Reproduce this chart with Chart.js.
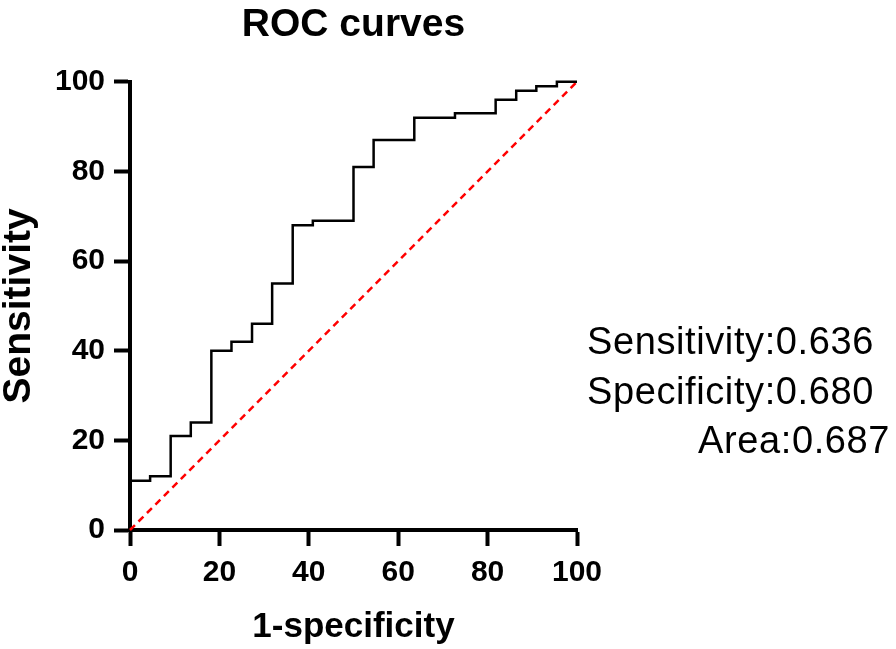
<!DOCTYPE html>
<html>
<head>
<meta charset="utf-8">
<script src="https://cdn.jsdelivr.net/npm/chart.js@4"></script>
<style>
  html, body { margin: 0; padding: 0; background: #fff; }
  #wrap { width: 896px; height: 649px; }
</style>
</head>
<body>
<div id="wrap"><canvas id="rocChart"></canvas></div>
<script>
// ROC step curve (1-specificity %, sensitivity %)
const fprValues = [0, 4.5, 9.1, 13.6, 18.2, 22.7, 27.3, 31.8, 36.4, 40.9, 50, 54.5, 63.6, 72.7, 81.8, 86.4, 90.9, 95.5, 100];
const tprValues = [11, 12, 21, 24, 40, 42, 46, 55, 68, 69, 81, 87, 92, 93, 96, 98, 99, 100, 100];
// reference diagonal
const diagX = [0, 100];
const diagY = [0, 100];
const tickValues = [0, 20, 40, 60, 80, 100];
const statLines = ['Sensitivity:0.636', 'Specificity:0.680', 'Area:0.687'];

const FONT = '"Liberation Sans", Arial, sans-serif';

const rocPoints = fprValues.map((x, i) => ({ x: x, y: tprValues[i] }));
const diagPoints = diagX.map((x, i) => ({ x: x, y: diagY[i] }));

// stats text to the right of the plot
const statsText = {
    id: 'statsText',
    afterDraw(chart) {
        const { ctx, chartArea } = chart;
        ctx.save();
        ctx.fillStyle = '#000';
        ctx.font = '38px ' + FONT;
        ctx.letterSpacing = '0.6px';
        ctx.textBaseline = 'alphabetic';
        ctx.textAlign = 'left';
        ctx.fillText(statLines[0], chartArea.right + 10, 354);
        ctx.fillText(statLines[1], chartArea.right + 10, 404);
        ctx.textAlign = 'right';
        ctx.fillText(statLines[2], chart.width - 6, 453);
        ctx.restore();
    }
};

new Chart(document.getElementById('rocChart'), {
    type: 'line',
    data: {
        datasets: [
            {
                label: 'ROC',
                data: rocPoints,
                borderColor: '#000',
                borderWidth: 2.5,
                stepped: true,
                pointRadius: 0,
                fill: false,
                clip: 6
            },
            {
                label: 'Reference',
                data: diagPoints,
                borderColor: '#ff0000',
                borderWidth: 2.5,
                borderDash: [7, 5],
                pointRadius: 0,
                fill: false,
                clip: 6
            }
        ]
    },
    options: {
        responsive: true,
        maintainAspectRatio: false,
        animation: false,
        layout: { padding: { left: 0, right: 319, top: 0, bottom: 0 } },
        plugins: {
            legend: { display: false },
            tooltip: { enabled: false },
            title: {
                display: true,
                text: 'ROC curves',
                fullSize: false,
                color: '#000',
                font: { family: FONT, size: 39, weight: 'bold', lineHeight: 1.2 },
                padding: { top: 2, bottom: 33 }
            }
        },
        scales: {
            x: {
                type: 'linear',
                min: 0,
                max: 100,
                afterFit: scale => { scale.height = 119; },
                afterBuildTicks: scale => { scale.ticks = tickValues.map(v => ({ value: v })); },
                border: { display: true, color: '#000', width: 4 },
                grid: { drawOnChartArea: false, drawTicks: true, tickLength: 16, tickWidth: 4, tickColor: '#000' },
                ticks: { color: '#000', padding: 9, maxRotation: 0, font: { family: FONT, size: 30, weight: 'bold' } },
                title: {
                    display: true,
                    text: '1-specificity',
                    color: '#000',
                    font: { family: FONT, size: 35, weight: 'bold', lineHeight: 1.2 },
                    padding: { top: 0, bottom: 1 }
                }
            },
            y: {
                type: 'linear',
                min: 0,
                max: 100,
                afterFit: scale => { scale.width = 130; },
                afterBuildTicks: scale => { scale.ticks = tickValues.map(v => ({ value: v })); },
                border: { display: true, color: '#000', width: 4 },
                grid: { drawOnChartArea: false, drawTicks: true, tickLength: 16, tickWidth: 4, tickColor: '#000' },
                ticks: { color: '#000', padding: 9, font: { family: FONT, size: 30, weight: 'bold' } },
                title: {
                    display: true,
                    text: 'Sensitivity',
                    color: '#000',
                    font: { family: FONT, size: 39, weight: 'bold', lineHeight: 1 },
                    padding: { top: 0, bottom: 0 }
                }
            }
        }
    },
    plugins: [statsText]
});
</script>
</body>
</html>
